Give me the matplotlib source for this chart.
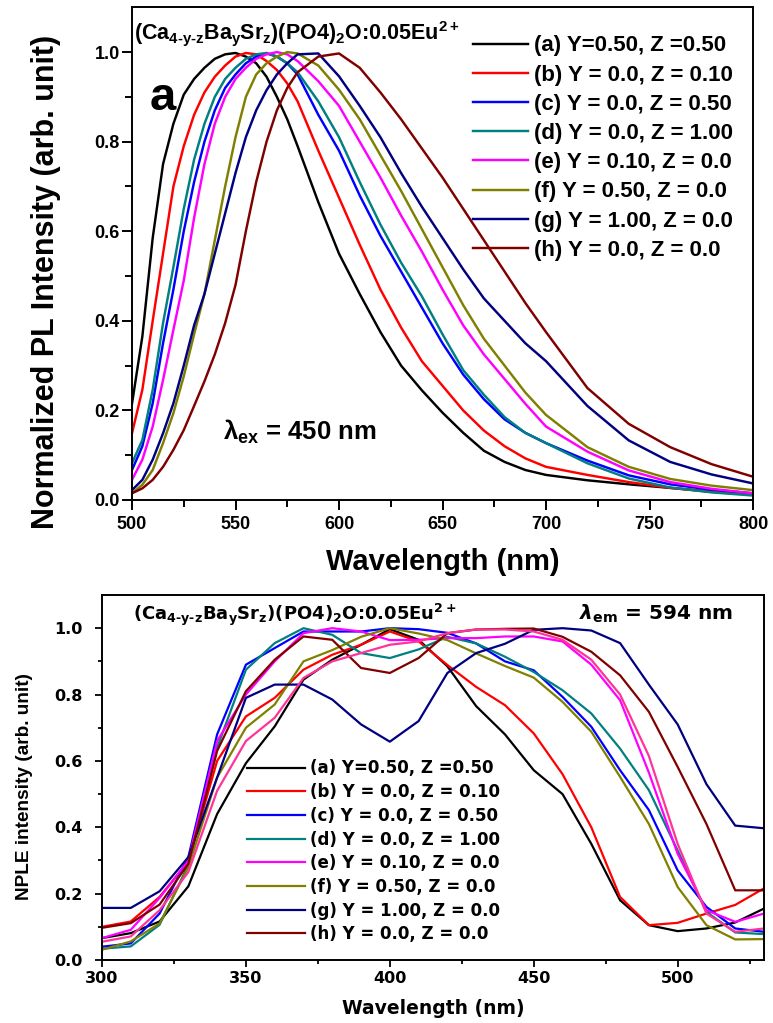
import matplotlib
matplotlib.use('Agg')
import matplotlib.pyplot as plt
from matplotlib.ticker import FixedLocator, FormatStrFormatter
from matplotlib.font_manager import FontProperties

# ---------------- data: top panel (PL emission, lambda_ex = 450 nm) ----------------
pl_wavelength = [500, 505, 510, 515, 520, 525, 530, 535, 540, 545, 550, 555, 560, 565, 570,
                 575, 580, 590, 600, 610, 620, 630, 640, 650, 660, 670, 680, 690, 700, 720,
                 740, 760, 780, 800]
pl_a = [0.215, 0.365, 0.585, 0.75, 0.84, 0.905, 0.94, 0.965, 0.985, 0.995, 0.998, 0.99, 0.975, 0.945, 0.90,
        0.85, 0.79, 0.665, 0.55, 0.46, 0.375, 0.30, 0.245, 0.195, 0.15, 0.11, 0.085, 0.067, 0.056, 0.044,
        0.035, 0.027, 0.019, 0.012]
pl_b = [0.149, 0.246, 0.40, 0.55, 0.70, 0.79, 0.86, 0.91, 0.945, 0.97, 0.99, 0.998, 0.995, 0.98, 0.96,
        0.93, 0.89, 0.78, 0.675, 0.57, 0.47, 0.385, 0.31, 0.255, 0.20, 0.155, 0.12, 0.093, 0.074, 0.056,
        0.04, 0.027, 0.018, 0.012]
pl_c = [0.067, 0.12, 0.216, 0.35, 0.47, 0.60, 0.71, 0.80, 0.87, 0.92, 0.95, 0.975, 0.99, 0.997, 0.99,
        0.975, 0.95, 0.86, 0.78, 0.68, 0.59, 0.51, 0.43, 0.35, 0.28, 0.225, 0.18, 0.15, 0.127, 0.088,
        0.055, 0.035, 0.023, 0.015]
pl_d = [0.082, 0.134, 0.246, 0.395, 0.52, 0.65, 0.76, 0.84, 0.90, 0.94, 0.965, 0.985, 0.995, 0.998, 0.99,
        0.975, 0.955, 0.89, 0.81, 0.71, 0.615, 0.53, 0.455, 0.37, 0.29, 0.235, 0.185, 0.15, 0.127, 0.082,
        0.048, 0.028, 0.017, 0.010]
pl_e = [0.045, 0.09, 0.164, 0.268, 0.38, 0.49, 0.63, 0.75, 0.84, 0.90, 0.94, 0.965, 0.985, 0.995, 1.0,
        0.995, 0.98, 0.935, 0.88, 0.80, 0.72, 0.635, 0.555, 0.47, 0.39, 0.325, 0.27, 0.215, 0.164, 0.108,
        0.066, 0.04, 0.025, 0.015]
pl_f = [0.015, 0.034, 0.067, 0.127, 0.194, 0.276, 0.37, 0.46, 0.58, 0.70, 0.81, 0.90, 0.95, 0.975, 0.99,
        1.0, 0.997, 0.97, 0.916, 0.85, 0.77, 0.69, 0.605, 0.52, 0.435, 0.36, 0.30, 0.24, 0.19, 0.118,
        0.074, 0.047, 0.032, 0.022]
pl_g = [0.022, 0.045, 0.09, 0.149, 0.216, 0.30, 0.39, 0.46, 0.55, 0.64, 0.73, 0.81, 0.87, 0.915, 0.95,
        0.975, 0.995, 0.997, 0.946, 0.88, 0.81, 0.73, 0.655, 0.585, 0.515, 0.45, 0.40, 0.35, 0.31, 0.21,
        0.133, 0.085, 0.057, 0.037]
pl_h = [0.015, 0.026, 0.045, 0.074, 0.112, 0.156, 0.21, 0.265, 0.325, 0.395, 0.48, 0.60, 0.71, 0.80, 0.87,
        0.92, 0.955, 0.99, 0.997, 0.965, 0.91, 0.85, 0.785, 0.72, 0.65, 0.58, 0.51, 0.44, 0.375, 0.25,
        0.17, 0.118, 0.08, 0.052]

# ---------------- data: bottom panel (PLE, lambda_em = 594 nm) ----------------
ple_wavelength = [300, 310, 320, 330, 340, 350, 360, 370, 380, 390, 400, 410, 420, 430, 440, 450,
                  460, 470, 480, 490, 500, 510, 520, 530]
ple_a = [0.066, 0.081, 0.116, 0.222, 0.44, 0.593, 0.704, 0.845, 0.905, 0.95, 0.997, 0.965, 0.885, 0.765,
         0.68, 0.572, 0.50, 0.35, 0.18, 0.105, 0.087, 0.095, 0.113, 0.155]
ple_b = [0.10, 0.116, 0.19, 0.297, 0.60, 0.734, 0.79, 0.875, 0.92, 0.95, 0.99, 0.96, 0.889, 0.823,
         0.768, 0.683, 0.56, 0.40, 0.19, 0.105, 0.112, 0.14, 0.166, 0.216]
ple_c = [0.04, 0.05, 0.14, 0.31, 0.68, 0.89, 0.94, 0.99, 0.99, 0.99, 1.0, 0.997, 0.986, 0.954,
         0.90, 0.873, 0.793, 0.703, 0.572, 0.452, 0.27, 0.16, 0.095, 0.085]
ple_d = [0.034, 0.041, 0.106, 0.287, 0.64, 0.875, 0.955, 1.0, 0.98, 0.925, 0.91, 0.936, 0.974, 0.954,
         0.914, 0.868, 0.813, 0.743, 0.637, 0.512, 0.33, 0.145, 0.083, 0.078]
ple_e = [0.066, 0.091, 0.187, 0.30, 0.66, 0.80, 0.90, 0.985, 1.0, 0.99, 0.964, 0.965, 0.97, 0.97,
         0.975, 0.975, 0.96, 0.89, 0.783, 0.565, 0.32, 0.15, 0.115, 0.14]
ple_f = [0.031, 0.056, 0.11, 0.28, 0.55, 0.70, 0.77, 0.90, 0.934, 0.974, 1.0, 0.984, 0.964, 0.924,
         0.886, 0.851, 0.778, 0.688, 0.552, 0.41, 0.22, 0.105, 0.062, 0.063]
ple_g = [0.157, 0.157, 0.207, 0.31, 0.55, 0.79, 0.83, 0.83, 0.785, 0.71, 0.658, 0.72, 0.865, 0.925,
         0.953, 0.995, 1.0, 0.993, 0.955, 0.83, 0.71, 0.53, 0.405, 0.397]
ple_h = [0.097, 0.111, 0.167, 0.29, 0.63, 0.81, 0.905, 0.975, 0.965, 0.88, 0.865, 0.91, 0.985, 0.996,
         0.998, 0.999, 0.974, 0.929, 0.858, 0.748, 0.582, 0.41, 0.21, 0.21]
ple_extra = [0.055, 0.071, 0.15, 0.265, 0.51, 0.66, 0.73, 0.85, 0.90, 0.925, 0.95, 0.96, 0.985, 0.996,
             0.996, 0.99, 0.965, 0.905, 0.80, 0.615, 0.35, 0.14, 0.085, 0.095]

series_labels = ['(a) Y=0.50, Z =0.50', '(b) Y = 0.0, Z = 0.10', '(c) Y = 0.0, Z = 0.50',
                 '(d) Y = 0.0, Z = 1.00', '(e) Y = 0.10, Z = 0.0', '(f) Y = 0.50, Z = 0.0',
                 '(g) Y = 1.00, Z = 0.0', '(h) Y = 0.0, Z = 0.0']
series_colors = ['#000000', '#FF0000', '#0000FF', '#008080', '#FF00FF', '#808000', '#000080', '#800000']
extra_color = '#FF3399'

pl_x_ticks = [500, 550, 600, 650, 700, 750, 800]
pl_x_minor = [525, 575, 625, 675, 725, 775]
ple_x_ticks = [300, 350, 400, 450, 500]
ple_x_minor = [325, 375, 425, 475, 525]
y_ticks = [0.0, 0.2, 0.4, 0.6, 0.8, 1.0]
y_minor = [0.1, 0.3, 0.5, 0.7, 0.9]

# ---------------- style ----------------
plt.rcParams['font.family'] = ['Liberation Sans', 'DejaVu Sans']
plt.rcParams['font.weight'] = 'bold'
plt.rcParams['axes.labelweight'] = 'bold'
plt.rcParams['mathtext.fontset'] = 'custom'
plt.rcParams['mathtext.rm'] = 'Liberation Sans:bold'
plt.rcParams['mathtext.it'] = 'Liberation Sans:bold'
plt.rcParams['mathtext.bf'] = 'Liberation Sans:bold'
plt.rcParams['mathtext.sf'] = 'Liberation Sans:bold'

W, H = 773, 1023
fig = plt.figure(figsize=(W / 100, H / 100), dpi=100)


def fx(px):
    return px / W


def fy(py):
    return 1 - py / H


# ======================= top panel =======================
ax1 = fig.add_axes([fx(132), fy(500), 621 / W, 492.7 / H])
pl_series = [pl_a, pl_b, pl_c, pl_d, pl_e, pl_f, pl_g, pl_h]
lines1 = []
for ys, c, lab in zip(pl_series, series_colors, series_labels):
    ln, = ax1.plot(pl_wavelength, ys, color=c, lw=1.75, label=lab)
    lines1.append(ln)
ax1.set_xlim(500, 800)
ax1.set_ylim(0, 1.1)
ax1.xaxis.set_major_locator(FixedLocator(pl_x_ticks))
ax1.xaxis.set_minor_locator(FixedLocator(pl_x_minor))
ax1.yaxis.set_major_locator(FixedLocator(y_ticks))
ax1.yaxis.set_minor_locator(FixedLocator(y_minor))
ax1.yaxis.set_major_formatter(FormatStrFormatter('%.1f'))
ax1.tick_params(which='both', direction='out', width=1.4, labelsize=13)
ax1.tick_params(which='major', length=7.2)
ax1.tick_params(which='minor', length=5)
ax1.tick_params(axis='x', which='major', pad=4.5)
ax1.tick_params(axis='y', which='major', pad=1.5)
for s in ax1.spines.values():
    s.set_linewidth(1.4)

ax1.set_xlabel('Wavelength (nm)', fontsize=21, fontweight='bold')
ax1.xaxis.set_label_coords(0.5, -(570 - 500) / 492.7)
ax1.xaxis.label.set_verticalalignment('baseline')
ax1.set_ylabel('Normalized PL Intensity (arb. unit)', fontsize=22, fontweight='bold')
ax1.yaxis.set_label_coords((61.5 - 132) / 621, (500 - 281.5) / 492.7)

ax1.text(0.004, (500 - 39) / 492.7,
         r'$(Ca_{4\text{-}y\text{-}z}Ba_{y}Sr_{z})(PO4)_{2}O\text{:}0.05Eu^{2+}$',
         transform=ax1.transAxes, fontsize=15.5, ha='left', va='baseline')
ax1.text((150 - 132) / 621, (500 - 110) / 492.7, 'a', transform=ax1.transAxes,
         fontsize=34, fontweight='bold', ha='left', va='baseline')
ax1.text(543.8, 0.134, r'$\lambda_{ex}$ = 450 nm', fontsize=18.5, fontweight='bold',
         ha='left', va='baseline')

leg1 = ax1.legend(handles=lines1, loc='upper left', bbox_to_anchor=(fx(473), fy(35.3)),
                  bbox_transform=fig.transFigure, frameon=False, borderpad=0, borderaxespad=0,
                  handlelength=2.48, handletextpad=0.27, labelspacing=0.37,
                  prop=FontProperties(family='Liberation Sans', weight='bold', size=16))

# ======================= bottom panel =======================
ax2 = fig.add_axes([fx(102), fy(960), 662 / W, 365 / H])
ple_series = [ple_a, ple_b, ple_c, ple_d, ple_e, ple_f, ple_g, ple_h]
lines2 = []
for ys, c, lab in zip(ple_series, series_colors, series_labels):
    ln, = ax2.plot(ple_wavelength, ys, color=c, lw=1.6, label=lab)
    lines2.append(ln)
ax2.plot(ple_wavelength, ple_extra, color=extra_color, lw=1.6)
ax2.set_xlim(300, 530)
ax2.set_ylim(0, 1.1)
ax2.xaxis.set_major_locator(FixedLocator(ple_x_ticks))
ax2.xaxis.set_minor_locator(FixedLocator(ple_x_minor))
ax2.yaxis.set_major_locator(FixedLocator(y_ticks))
ax2.yaxis.set_minor_locator(FixedLocator(y_minor))
ax2.yaxis.set_major_formatter(FormatStrFormatter('%.1f'))
ax2.tick_params(which='both', direction='out', width=1.3, labelsize=11.5,
                labelfontfamily='DejaVu Sans')
ax2.tick_params(which='major', length=4.8)
ax2.tick_params(which='minor', length=3)
ax2.tick_params(axis='x', which='major', pad=3)
ax2.tick_params(axis='y', which='major', pad=9)
for s in ax2.spines.values():
    s.set_linewidth(1.4)

ax2.set_xlabel('Wavelength (nm)', fontsize=13.5, fontweight='bold', fontfamily='DejaVu Sans')
ax2.xaxis.set_label_coords(0.5, -(1013.5 - 960) / 365)
ax2.xaxis.label.set_verticalalignment('baseline')
ax2.set_ylabel('NPLE intensity (arb. unit)', fontsize=13.7, fontweight='bold')
ax2.yaxis.set_label_coords((33.3 - 102) / 662, (960 - 786.5) / 365)

ax2.text((294.5 - 102) / 662, (960 - 620) / 365,
         r'$\mathbf{(Ca_{4\text{-}y\text{-}z}Ba_{y}Sr_{z})(PO4)_{2}O\text{:}0.05Eu^{2+}}$',
         transform=ax2.transAxes, fontsize=13, ha='center', va='baseline',
         fontfamily='DejaVu Sans', math_fontfamily='dejavusans')
ax2.text((656 - 102) / 662, (960 - 620) / 365, r'$\lambda_{\mathbf{em}}$ = 594 nm',
         transform=ax2.transAxes, fontsize=14.5, fontweight='bold', ha='center', va='baseline',
         fontfamily='DejaVu Sans', math_fontfamily='dejavusans')

leg2 = ax2.legend(handles=lines2, loc='upper left', bbox_to_anchor=(fx(247), fy(759.5)),
                  bbox_transform=fig.transFigure, frameon=False, borderpad=0, borderaxespad=0,
                  handlelength=3.48, handletextpad=0.3, labelspacing=0.34,
                  prop=FontProperties(family='DejaVu Sans', weight='bold', size=12))

fig.savefig('out.png', dpi=100)
